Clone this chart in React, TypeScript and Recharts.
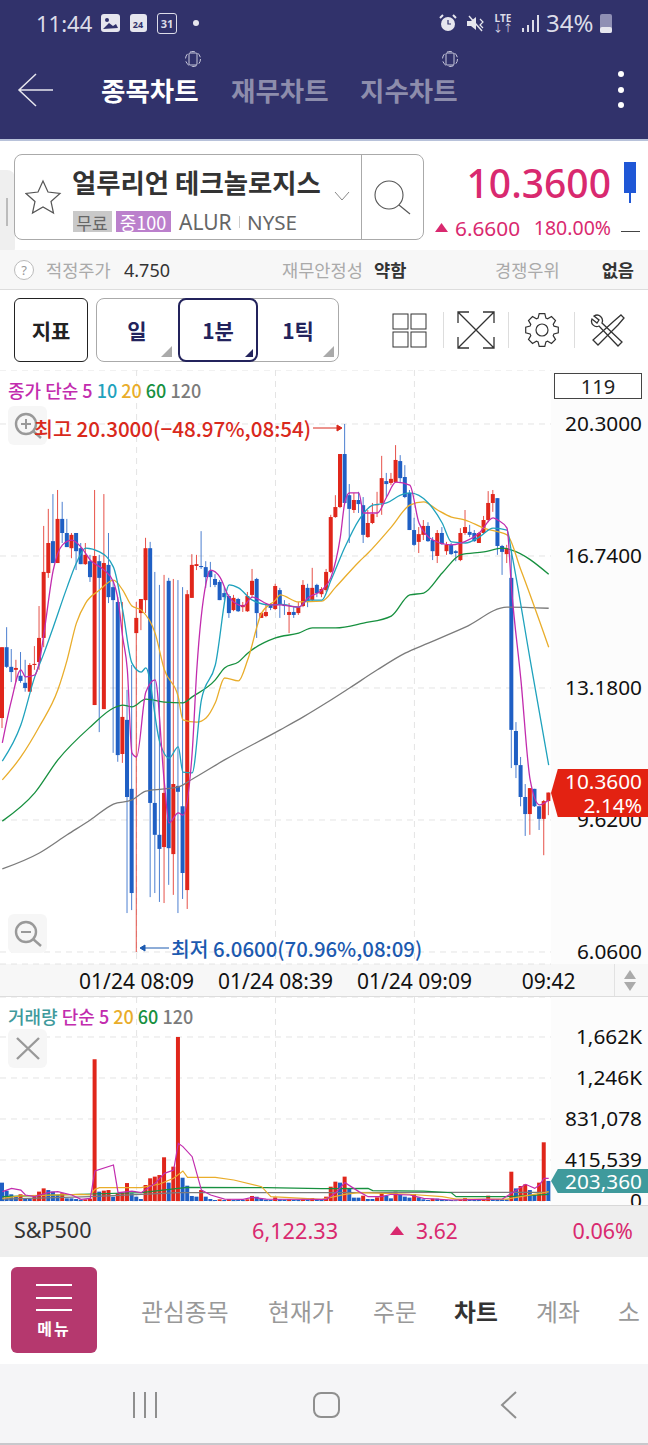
import React from "react"
import { ComposedChart, Bar, Line, Cell, XAxis, YAxis, CartesianGrid } from "recharts"

const FONT = '"Noto Sans", "Noto Sans CJK KR", sans-serif'
const KR = '"Noto Sans CJK KR", "Noto Sans", sans-serif'

const UP = "#e0261b"
const DOWN = "#1f5fc4"
const MAGENTA = "#c22cae"
const TEAL = "#1fa2bd"
const ORANGE = "#e9ad2b"
const GREEN = "#17903f"
const GRAY = "#7b7b7b"

const priceTicks = [6.06, 9.62, 13.18, 16.74, 20.3]
const volumeTicks = [0, 415539, 831078, 1246617, 1662156]
const timeTicks = [29, 59, 89, 118]
const timeLabels = ["01/24 08:09", "01/24 08:39", "01/24 09:09", "09:42"]

const candleOpen = [
  12.37, 14.28, 13.75, 13.67, 13.51, 13.32, 13.08, 13.80, 13.88, 14.53,
  16.28, 17.14, 16.55, 17.74, 17.36, 16.95, 17.36, 16.95, 16.52, 16.60,
  12.72, 16.60, 12.61, 16.50, 15.90, 15.50, 11.40, 12.32, 10.46, 14.66,
  15.20, 15.55, 16.95, 10.08, 9.22, 8.89, 16.07, 8.70, 10.54, 9.99,
  7.73, 15.61, 16.47, 16.47, 16.44, 16.34, 16.12, 16.04, 15.74, 15.66,
  15.28, 15.58, 15.36, 15.25, 15.69, 16.12, 15.07, 15.12, 15.42, 15.31,
  15.82, 15.42, 15.15, 15.23, 15.20, 15.39, 15.88, 15.55, 15.96, 15.71,
  15.82, 16.31, 17.79, 18.06, 19.49, 18.38, 17.98, 18.25, 18.11, 17.25,
  17.63, 18.11, 18.17, 18.76, 18.71, 18.73, 19.30, 18.87, 18.44, 17.44,
  17.12, 17.31, 17.55, 17.17, 16.74, 17.36, 16.87, 17.04, 16.87, 16.63,
  17.36, 17.39, 17.36, 17.09, 17.36, 17.71, 18.17, 18.30, 17.01, 16.79,
  16.15, 12.02, 11.10, 10.24, 9.78, 10.46, 9.99, 9.65, 10.13,
]
const candleHigh = [
  14.28, 14.82, 14.23, 13.94, 14.15, 13.94, 13.85, 14.31, 15.39, 17.55,
  18.01, 18.41, 18.52, 18.20, 17.74, 17.36, 17.36, 17.09, 17.09, 16.77,
  18.52, 16.77, 18.41, 17.36, 16.09, 15.63, 15.50, 13.13, 13.80, 15.50,
  15.58, 17.23, 17.12, 16.31, 15.96, 16.23, 16.15, 16.12, 16.09, 15.90,
  15.82, 16.79, 16.77, 17.41, 16.60, 16.58, 16.25, 16.09, 15.90, 15.71,
  15.69, 15.61, 15.50, 15.77, 16.39, 16.15, 15.23, 15.47, 15.47, 15.99,
  15.88, 15.55, 15.47, 15.36, 15.50, 16.09, 15.99, 16.42, 15.99, 15.90,
  16.39, 17.85, 18.38, 19.49, 20.30, 18.68, 18.44, 18.47, 18.33, 17.98,
  18.17, 18.47, 19.44, 18.98, 18.98, 19.73, 19.46, 19.19, 18.52, 17.77,
  17.52, 17.71, 17.65, 17.25, 17.44, 17.52, 17.12, 17.09, 16.90, 17.49,
  17.98, 17.58, 17.44, 17.39, 17.82, 18.49, 18.52, 18.30, 17.04, 17.04,
  16.90, 12.26, 11.32, 10.59, 10.48, 10.46, 9.99, 10.16, 10.36,
]
const candleLow = [
  12.10, 13.72, 13.34, 13.34, 13.32, 13.08, 13.08, 13.67, 13.67, 14.28,
  16.15, 16.55, 16.55, 17.09, 16.98, 16.68, 16.36, 16.52, 16.50, 16.04,
  12.72, 11.99, 12.61, 15.47, 11.43, 11.19, 11.16, 7.11, 7.19, 6.06,
  14.74, 15.20, 7.54, 7.65, 7.41, 7.38, 7.87, 7.60, 7.11, 7.49,
  7.22, 15.61, 16.36, 16.39, 15.88, 15.90, 15.90, 15.55, 15.55, 15.07,
  15.25, 15.23, 15.23, 15.23, 15.63, 14.53, 15.07, 15.09, 15.28, 15.28,
  15.07, 15.15, 14.66, 15.07, 15.15, 15.36, 15.36, 15.52, 15.63, 15.63,
  15.77, 16.28, 17.77, 18.03, 18.14, 17.09, 17.90, 17.90, 17.09, 17.23,
  17.60, 17.79, 17.85, 18.33, 18.65, 18.71, 18.73, 18.30, 17.44, 17.01,
  16.82, 17.17, 17.12, 16.63, 16.55, 17.04, 16.77, 16.77, 16.60, 16.60,
  17.31, 17.25, 17.12, 17.09, 17.33, 17.65, 17.93, 16.77, 16.23, 16.55,
  11.02, 10.75, 9.99, 9.19, 9.22, 9.97, 9.35, 8.67, 9.75,
]
const candleClose = [
  14.28, 13.75, 13.61, 13.72, 13.37, 13.18, 13.80, 13.83, 14.53, 16.31,
  17.09, 16.55, 17.74, 17.36, 16.98, 17.31, 16.87, 16.52, 16.77, 16.17,
  16.74, 16.15, 16.55, 15.63, 15.55, 11.37, 12.40, 10.24, 7.65, 15.07,
  15.58, 16.95, 10.08, 9.22, 8.84, 10.35, 8.86, 10.59, 10.38, 8.19,
  15.71, 16.50, 16.52, 16.44, 16.17, 16.17, 15.96, 15.55, 15.63, 15.20,
  15.61, 15.25, 15.42, 15.66, 16.07, 15.20, 15.20, 15.23, 15.34, 15.93,
  15.44, 15.39, 15.23, 15.15, 15.36, 15.96, 15.50, 15.88, 15.74, 15.85,
  16.31, 17.79, 18.06, 19.49, 18.17, 18.01, 18.25, 18.14, 17.31, 17.63,
  17.87, 18.14, 18.84, 18.68, 18.82, 19.33, 18.84, 18.33, 17.44, 17.04,
  17.33, 17.55, 17.14, 16.87, 17.36, 17.06, 17.04, 16.79, 16.82, 17.36,
  17.52, 17.31, 17.14, 17.36, 17.71, 18.17, 18.41, 17.01, 16.85, 16.95,
  12.05, 11.10, 10.24, 9.78, 10.48, 9.99, 9.65, 10.13, 10.36,
]

const ma5At = [0, 2, 4, 5, 7, 8, 9, 11, 13, 15, 17, 19, 22, 24, 25, 26, 27, 28, 29, 31, 33, 35, 36, 38, 39, 41, 42, 44, 45, 47, 49, 52, 54, 58, 60, 64, 66, 69, 71, 73, 74, 75, 77, 78, 81, 83, 85, 88, 90, 93, 97, 99, 103, 106, 107, 109, 110, 112, 114, 116, 118]
const ma5 = [11.70, 12.86, 13.67, 13.48, 13.53, 13.88, 14.66, 16.36, 17.04, 17.17, 16.98, 16.63, 16.36, 16.04, 15.55, 14.55, 13.67, 11.43, 11.32, 13.07, 13.40, 10.62, 9.54, 9.81, 9.75, 11.43, 13.67, 16.01, 16.36, 16.17, 15.63, 15.39, 15.63, 15.42, 15.42, 15.36, 15.61, 15.82, 16.17, 17.25, 18.20, 18.44, 18.44, 17.90, 17.90, 18.33, 18.73, 18.65, 17.63, 17.17, 17.04, 17.09, 17.36, 17.77, 17.71, 17.49, 15.82, 13.40, 10.70, 10.03, 10.16]

const ma10At = [0, 4, 7, 9, 11, 14, 16, 18, 21, 24, 26, 28, 30, 31, 34, 36, 38, 39, 41, 43, 46, 49, 51, 54, 58, 60, 64, 66, 69, 71, 74, 77, 80, 83, 86, 88, 92, 95, 97, 100, 103, 106, 109, 110, 114, 118]
const ma10 = [11.21, 12.18, 13.48, 14.12, 14.82, 15.90, 16.55, 16.95, 16.85, 16.44, 15.28, 13.85, 13.61, 13.72, 11.72, 11.29, 11.59, 10.91, 10.89, 12.86, 13.80, 15.96, 15.88, 15.55, 15.42, 15.44, 15.36, 15.55, 15.55, 16.09, 16.98, 17.71, 18.11, 18.17, 18.38, 18.44, 18.17, 17.63, 17.12, 17.09, 17.25, 17.49, 17.44, 16.82, 13.94, 11.10]

const ma20At = [0, 4, 8, 12, 14, 16, 18, 21, 24, 26, 28, 30, 33, 35, 38, 39, 42, 44, 46, 48, 51, 53, 56, 59, 60, 64, 69, 72, 77, 79, 84, 88, 91, 94, 97, 100, 104, 109, 112, 118]
const ma20 = [10.70, 11.32, 12.14, 13.13, 13.94, 14.93, 15.47, 15.82, 16.09, 15.82, 15.39, 15.28, 14.66, 13.67, 12.94, 12.32, 12.26, 12.37, 12.78, 13.45, 13.37, 13.94, 15.20, 15.55, 15.69, 15.50, 15.52, 15.90, 16.58, 16.82, 17.52, 18.11, 18.20, 17.98, 17.79, 17.71, 17.49, 17.31, 16.36, 14.28]

const ma60At = [0, 7, 12, 19, 24, 26, 28, 31, 35, 39, 41, 46, 48, 51, 53, 59, 64, 67, 72, 78, 84, 88, 91, 95, 99, 104, 108, 110, 118]
const ma60 = [9.59, 10.35, 11.24, 12.13, 12.64, 12.72, 12.67, 12.88, 12.80, 12.78, 12.94, 13.40, 13.72, 13.88, 14.12, 14.53, 14.66, 14.80, 14.80, 14.93, 15.12, 15.69, 15.74, 16.28, 16.77, 16.85, 16.95, 16.90, 16.25]

const ma120At = [0, 8, 14, 19, 24, 28, 31, 38, 41, 48, 60, 65, 70, 75, 81, 87, 92, 100, 109, 118]
const ma120 = [8.30, 8.73, 9.22, 9.62, 10.05, 10.16, 10.40, 10.51, 10.72, 11.24, 12.05, 12.40, 12.78, 13.18, 13.67, 14.12, 14.39, 14.82, 15.36, 15.33]

// thousands of shares
const volumeK = [
  186, 105, 68, 44, 68, 27, 20, 44, 95, 128,
  111, 95, 61, 78, 27, 27, 20, 14, 17, 24,
  1436, 95, 105, 111, 44, 78, 84, 182, 78, 44,
  20, 162, 230, 247, 263, 443, 186, 348, 1662, 236,
  155, 51, 44, 111, 44, 20, 10, 17, 10, 17,
  10, 10, 10, 17, 51, 44, 24, 14, 10, 37,
  17, 14, 17, 10, 10, 14, 10, 30, 20, 10,
  44, 145, 196, 186, 247, 128, 34, 34, 54, 20,
  20, 37, 78, 54, 27, 95, 61, 44, 34, 71,
  37, 17, 10, 24, 24, 20, 10, 10, 7, 10,
  30, 17, 14, 14, 20, 54, 20, 20, 17, 17,
  297, 128, 152, 169, 111, 61, 186, 595, 203.36,
]

const vma5At = [0, 2, 4, 5, 7, 10, 12, 15, 17, 19, 20, 24, 25, 28, 30, 33, 35, 37, 38, 39, 41, 43, 45, 48, 52, 54, 57, 70, 72, 74, 77, 79, 82, 84, 88, 91, 97, 104, 108, 110, 113, 115, 116, 117, 118]
const vma5 = [95, 128, 111, 61, 44, 88, 95, 61, 17, 27, 304, 365, 84, 101, 84, 179, 280, 314, 584, 551, 449, 111, 61, 20, 17, 37, 20, 17, 84, 186, 95, 44, 44, 68, 61, 27, 10, 17, 20, 78, 169, 128, 162, 230, 230]

const vma20At = [0, 4, 17, 19, 20, 21, 30, 34, 37, 39, 40, 46, 50, 56, 58, 69, 74, 77, 87, 95, 98, 109, 117, 118]
const vma20 = [27, 51, 68, 61, 118, 135, 135, 172, 230, 304, 240, 240, 213, 145, 44, 17, 68, 84, 71, 44, 20, 20, 84, 95]

const vma60At = [0, 19, 30, 38, 40, 57, 69, 79, 80, 91, 97, 98, 109, 118]
const vma60 = [44, 71, 84, 128, 139, 135, 125, 128, 105, 101, 84, 44, 44, 68]

const vma120At = [0, 19, 30, 38, 69, 97, 117, 118]
const vma120 = [20, 44, 68, 84, 84, 88, 88, 91]

const pick = (at: number[], values: number[], i: number, scale = 1) => {
  const k = at.indexOf(i)
  return k < 0 ? null : values[k] * scale
}

const priceData = candleOpen.map((open, i) => ({
  idx: i,
  open,
  high: candleHigh[i],
  low: candleLow[i],
  close: candleClose[i],
  ma5: pick(ma5At, ma5, i),
  ma10: pick(ma10At, ma10, i),
  ma20: pick(ma20At, ma20, i),
  ma60: pick(ma60At, ma60, i),
  ma120: pick(ma120At, ma120, i),
}))

const volumeData = volumeK.map((v, i) => ({
  idx: i,
  volume: v * 1000,
  vma5: pick(vma5At, vma5, i, 1000),
  vma20: pick(vma20At, vma20, i, 1000),
  vma60: pick(vma60At, vma60, i, 1000),
  vma120: pick(vma120At, vma120, i, 1000),
}))

function Candle(props: any) {
  const { x, y, width, height, payload } = props
  const unit = height / (payload.high - payload.low)
  const yOf = (p: number) => y + (payload.high - p) * unit
  const color = payload.close >= payload.open ? UP : DOWN
  const top = yOf(Math.max(payload.open, payload.close))
  const bottom = yOf(Math.min(payload.open, payload.close))
  const mid = x + width / 2
  return (
    <g>
      <line x1={mid} x2={mid} y1={y} y2={y + height} stroke={color} strokeWidth={1} strokeOpacity={0.8} />
      <rect x={x} y={top} width={width} height={Math.max(bottom - top, 1)} fill={color} />
    </g>
  )
}

function formatVolume(v: number) {
  if (v >= 1000000) return `${Math.floor(v / 1000).toLocaleString("en-US")}K`
  return v.toLocaleString("en-US")
}

const RightTick = (format: (v: number) => string) => (p: any) => (
  <text x={642} y={p.y} dy="0.36em" textAnchor="end" fontSize={20.8} fill="#111" fontFamily={FONT}>
    {format(p.payload.value)}
  </text>
)

// vertical grid only at the labelled times, one slot per candle across the plot
const gridAtTimes = ({ offset }: any) =>
  timeTicks.slice(0, 3).map((t) => offset.left + ((t + 0.5) / candleOpen.length) * offset.width)

function T({ x, y, size, color, weight, end, center, children, font, spacing }: any) {
  const tx = end ? "-100%" : center ? "-50%" : "0"
  return (
    <div style={{
      position: "absolute", left: x, top: y, transform: `translate(${tx}, -50%)`, fontSize: size,
      color, fontWeight: weight ?? 400, whiteSpace: "nowrap", lineHeight: 1, fontFamily: font ?? FONT,
      letterSpacing: spacing,
    }}>{children}</div>
  )
}

function Box({ x, y, w, h, bg, border, radius, clip }: any) {
  return <div style={{
    position: "absolute", left: x, top: y, width: w, height: h, background: bg, border, borderRadius: radius,
    boxSizing: "border-box", clipPath: clip,
  }} />
}

function Icon({ x, y, w, h, children }: any) {
  return (
    <svg style={{ position: "absolute", left: x, top: y }} width={w} height={h} viewBox={`0 0 ${w} ${h}`} fill="none">
      {children}
    </svg>
  )
}

function ZoomButton({ y, plus }: { y: number; plus: boolean }) {
  return (
    <>
      <Box x={8} y={y} w={39} h={39} bg="#f6f6f6" radius={6} />
      <Icon x={8} y={y} w={39} h={39}>
        <circle cx={18} cy={18} r={10} stroke="#999" strokeWidth={2.4} />
        <line x1={25} y1={25} x2={33} y2={32} stroke="#999" strokeWidth={2.4} />
        <line x1={13} y1={18} x2={23} y2={18} stroke="#999" strokeWidth={2} />
        {plus && <line x1={18} y1={13} x2={18} y2={23} stroke="#999" strokeWidth={2} />}
      </Icon>
    </>
  )
}

function gearPath(cx: number, cy: number) {
  const pts: string[] = []
  for (let k = 0; k < 8; k++) {
    const a = (k * Math.PI) / 4
    const at = (r: number, d: number) => `${(cx + r * Math.cos(a + d)).toFixed(1)} ${(cy + r * Math.sin(a + d)).toFixed(1)}`
    pts.push(at(12.5, -0.32), at(16.5, -0.17), at(16.5, 0.17), at(12.5, 0.32))
  }
  return "M" + pts.join(" L") + " Z"
}

function Chrome() {
  return (
    <>
      {/* top bar */}
      <Box x={0} y={0} w={648} h={139} bg="#31326b" />
      <Box x={0} y={139} w={648} h={2} bg="#b8c2da" />
      <T x={36} y={23} size={22} color="#dcdce8">11:44</T>
      <Box x={101} y={14} w={19} h={18} bg="#e6e6ee" radius={3} />
      <Icon x={101} y={14} w={19} h={18}>
        <circle cx={6} cy={6} r={2} fill="#31326b" />
        <path d="M2 15 L8 9 L12 12 L15 10 L17 14 Z" fill="#31326b" />
      </Icon>
      <Box x={130} y={14} w={17} h={18} bg="#e6e6ee" radius={3} />
      <T x={138} y={24} size={9} color="#31326b" weight={700} center>24</T>
      <Box x={157} y={13} w={20} h={21} border="1.5px solid #dcdce8" radius={3} />
      <T x={167} y={23} size={11} color="#dcdce8" weight={700} center>31</T>
      <Box x={193} y={20} w={6} h={6} bg="#e6e6ee" radius="50%" />
      <Icon x={438} y={13} w={20} h={20}>
        <circle cx={10} cy={11} r={7} fill="#e6e6ee" />
        <path d="M10 7 V11 H13" stroke="#31326b" strokeWidth={1.2} />
        <path d="M2 5 L5 2 M18 5 L15 2" stroke="#e6e6ee" strokeWidth={2} />
      </Icon>
      <Icon x={466} y={13} w={20} h={20}>
        <path d="M1 8 H5 L10 4 V17 L5 13 H1 Z" fill="#e6e6ee" />
        <path d="M3 3 L16 18" stroke="#e6e6ee" strokeWidth={1.4} />
        <path d="M14 6 L17 9 L14 12 L17 15" stroke="#e6e6ee" strokeWidth={1.2} />
      </Icon>
      <T x={503} y={18} size={10} color="#dcdce8" center weight={700}>LTE</T>
      <T x={503} y={28} size={10} color="#dcdce8" center>↓↑</T>
      <Box x={522} y={28} w={2} h={4} bg="#dcdce8" />
      <Box x={527} y={25} w={2} h={7} bg="#dcdce8" />
      <Box x={532} y={20} w={2} h={12} bg="#dcdce8" />
      <Box x={537} y={15} w={2} h={17} bg="#dcdce8" />
      <T x={546} y={23} size={24} color="#dcdce8">34%</T>
      <Box x={600} y={14} w={12} h={19} bg="#8f8fb4" radius={2} />
      <Box x={600} y={27} w={12} h={6} bg="#e6e6ee" radius={2} />
      <Icon x={12} y={70} w={48} h={40}>
        <path d="M24 4 L7 20 L24 36 M7 20 L41 20" stroke="#e6e6ee" strokeWidth={1.5} />
      </Icon>
      <T x={101} y={90} size={26.5} color="#fff" weight={700} font={KR}>종목차트</T>
      <T x={231} y={90} size={26.5} color="#8d8dac" weight={700} font={KR}>재무차트</T>
      <T x={360} y={90} size={26.5} color="#8d8dac" weight={700} font={KR}>지수차트</T>
      <Icon x={185} y={50} w={16} h={18}><rect x={4} y={3} width={8} height={12} rx={1} stroke="#c8c8dc" /><circle cx={8} cy={9} r={7.5} stroke="#c8c8dc" strokeDasharray="5 3" /></Icon>
      <Icon x={442} y={50} w={16} h={18}><rect x={4} y={3} width={8} height={12} rx={1} stroke="#c8c8dc" /><circle cx={8} cy={9} r={7.5} stroke="#c8c8dc" strokeDasharray="5 3" /></Icon>
      <Box x={618} y={71} w={6} h={6} bg="#fff" radius="50%" />
      <Box x={618} y={87} w={6} h={6} bg="#fff" radius="50%" />
      <Box x={618} y={102} w={6} h={6} bg="#fff" radius="50%" />

      {/* stock box */}
      <Box x={0} y={170} w={15} h={86} bg="#efefef" radius="0 8px 8px 0" />
      <Box x={6} y={198} w={2} h={28} bg="#bbb" />
      <Box x={14} y={154} w={410} h={86} bg="#fff" border="1px solid #aaa" radius={8} />
      <Box x={361} y={155} w={1} h={84} bg="#aaa" />
      <Icon x={25} y={178} w={38} h={38}>
        <path d="M18 3 L23 14 L35 15.5 L26 23.5 L28.5 35 L18 29 L7.5 35 L10 23.5 L1 15.5 L13 14 Z" stroke="#555" strokeWidth={1.2} />
      </Icon>
      <T x={72} y={182} size={26.4} color="#333" weight={700} font={KR}>얼루리언 테크놀로지스</T>
      <Icon x={333} y={190} w={18} h={12}><path d="M2 2 L9 10 L16 2" stroke="#888" strokeWidth={1} /></Icon>
      <Icon x={372} y={178} w={42} h={42}>
        <circle cx={17} cy={17} r={14} stroke="#555" strokeWidth={1.1} />
        <line x1={27} y1={27} x2={38} y2={36} stroke="#555" strokeWidth={1.1} />
      </Icon>
      <Box x={73} y={211} w={39} h={21} bg="#c9c9c9" />
      <T x={92} y={222} size={17} color="#666" center font={KR}>무료</T>
      <Box x={116} y={211} w={55} h={21} bg="#bb80cc" />
      <T x={143} y={222} size={18} color="#fff" center font={KR}>중100</T>
      <T x={179} y={222} size={21} color="#666">ALUR</T>
      <Box x={239} y={216} w={1} h={12} bg="#ccc" />
      <T x={247} y={222} size={20.6} color="#666">NYSE</T>
      <T x={611} y={182} size={39} color="#d9296f" weight={500} end>10.3600</T>
      <Box x={624} y={162} w={12} h={31} bg="#1f57d6" />
      <Box x={629} y={193} w={2} h={10} bg="#1f57d6" />
      <Box x={435} y={223} w={13} h={9} bg="#d9296f" clip="polygon(50% 0, 100% 100%, 0 100%)" />
      <T x={455} y={228} size={20.8} color="#d9296f">6.6600</T>
      <T x={611} y={228} size={19.5} color="#d9296f" end>180.00%</T>
      <Box x={621} y={231} w={19} h={1} bg="#444" />

      {/* info row */}
      <Box x={0} y={250} w={648} h={39} bg="#f7f7f7" />
      <Box x={0} y={289} w={648} h={1} bg="#ddd" />
      <Box x={14} y={260} w={20} h={20} bg="#fff" border="1px solid #bbb" radius="50%" />
      <T x={24} y={270} size={13} color="#999" center>?</T>
      <T x={46} y={270} size={17.6} color="#aaa" font={KR}>적정주가</T>
      <T x={124} y={270} size={18} color="#333">4.750</T>
      <T x={282} y={270} size={17.6} color="#aaa" font={KR}>재무안정성</T>
      <T x={374} y={270} size={17.6} color="#333" weight={700} font={KR}>약함</T>
      <T x={495} y={270} size={17.6} color="#aaa" font={KR}>경쟁우위</T>
      <T x={634} y={270} size={17.6} color="#333" weight={700} end font={KR}>없음</T>

      {/* period buttons */}
      <Box x={14} y={298} w={74} h={64} bg="#fff" border="1.5px solid #222" radius={6} />
      <T x={51} y={330} size={21} color="#222" weight={700} center font={KR}>지표</T>
      <Box x={96} y={298} w={243} h={64} bg="#fff" border="1px solid #aaa" radius={8} />
      <Box x={178} y={298} w={80} h={64} bg="#fff" border="2px solid #23235c" radius={8} />
      <T x={137} y={330} size={21} color="#23235c" weight={700} center font={KR}>일</T>
      <T x={218} y={330} size={21} color="#23235c" weight={700} center font={KR}>1분</T>
      <T x={298} y={330} size={21} color="#23235c" weight={700} center font={KR}>1틱</T>
      <Box x={161} y={346} w={11} h={11} bg="#aaa" clip="polygon(100% 0, 100% 100%, 0 100%)" />
      <Box x={245} y={349} w={8} h={8} bg="#23235c" clip="polygon(100% 0, 100% 100%, 0 100%)" />
      <Box x={323} y={346} w={11} h={11} bg="#aaa" clip="polygon(100% 0, 100% 100%, 0 100%)" />
      <Icon x={392} y={313} w={36} h={36}>
        <rect x={1} y={1} width={15} height={15} stroke="#333" /><rect x={19} y={1} width={15} height={15} stroke="#333" />
        <rect x={1} y={19} width={15} height={15} stroke="#333" /><rect x={19} y={19} width={15} height={15} stroke="#333" />
      </Icon>
      <Box x={443} y={312} w={1} h={36} bg="#ddd" />
      <Icon x={457} y={311} w={38} h={38}>
        <path d="M1 12 V1 H12 M26 1 H37 V12 M1 26 V37 H12 M37 26 V37 H26 M1 1 L37 37 M37 1 L1 37" stroke="#333" strokeWidth={1.3} />
      </Icon>
      <Box x={508} y={312} w={1} h={36} bg="#ddd" />
      <Icon x={524} y={313} w={36} h={36}>
        <circle cx={18} cy={17} r={6} stroke="#333" strokeWidth={1.2} />
        <path d={gearPath(18, 17)} stroke="#333" strokeWidth={1.2} />
      </Icon>
      <Box x={574} y={312} w={1} h={36} bg="#ddd" />
      <Icon x={590} y={312} w={36} h={36}>
        <path d="M4 4 C9 1 14 6 12 11 L32 30 L28 34 L9 14 C5 16 0 12 2 7 L7 11 L9 8 Z" stroke="#333" strokeWidth={1.3} />
        <path d="M31 3 L34 6 L28 13 L14 27 L8 33 L3 28 L24 9 Z" stroke="#333" strokeWidth={1.3} />
      </Icon>

      {/* time strip */}
      <Box x={0} y={964} w={648} h={32} bg="#f7f7f7" />
      <Box x={0} y={996} w={648} h={1} bg="#ddd" />
      <Box x={614} y={964} w={1} h={32} bg="#e2e2e2" />

      {/* right price gutter */}
      <Box x={551} y={370} w={97} h={594} bg="#fcfcfc" />
      <Box x={551} y={997} w={97} h={208} bg="#fcfcfc" />

      {/* footer */}
      <Box x={0} y={1205} w={648} h={52} bg="#eeeeee" />
      <Box x={0} y={1205} w={648} h={1} bg="#d8d8d8" />
      <T x={14} y={1230} size={21.5} color="#333">S&amp;P500</T>
      <T x={252} y={1231} size={21.7} color="#d9296f">6,122.33</T>
      <Box x={390} y={1226} w={14} h={9} bg="#d9296f" clip="polygon(50% 0, 100% 100%, 0 100%)" />
      <T x={416} y={1231} size={21} color="#d9296f">3.62</T>
      <T x={633} y={1231} size={21.5} color="#d9296f" end>0.06%</T>
      <Box x={0} y={1257} w={648} h={107} bg="#fff" />
      <Box x={11} y={1267} w={86} h={86} bg="#b5386e" radius={6} />
      <Box x={36} y={1284} w={36} h={2} bg="#fff" />
      <Box x={36} y={1297} w={36} h={2} bg="#fff" />
      <Box x={36} y={1309} w={36} h={2} bg="#fff" />
      <T x={54} y={1328} size={16} color="#fff" weight={700} center font={KR} spacing={2}>메뉴</T>
      <T x={141} y={1311} size={23.8} color="#999" font={KR}>관심종목</T>
      <T x={268} y={1311} size={23.8} color="#999" font={KR}>현재가</T>
      <T x={373} y={1311} size={23.8} color="#999" font={KR}>주문</T>
      <T x={454} y={1311} size={23.8} color="#333" weight={700} font={KR}>차트</T>
      <T x={536} y={1311} size={23.8} color="#999" font={KR}>계좌</T>
      <T x={618} y={1311} size={23.8} color="#999" font={KR}>소</T>
      <Box x={0} y={1364} w={648} h={81} bg="#f5f5f7" />
      <Box x={0} y={1443} w={648} h={2} bg="#c8c8cc" />
      <Box x={133} y={1392} w={2} h={26} bg="#8f8f8f" />
      <Box x={144} y={1392} w={2} h={26} bg="#8f8f8f" />
      <Box x={155} y={1392} w={2} h={26} bg="#8f8f8f" />
      <Box x={313} y={1392} w={27} h={26} border="2.5px solid #8f8f8f" radius={8} />
      <Icon x={498} y={1390} w={22} h={30}><path d="M18 2 L4 15 L18 28" stroke="#8f8f8f" strokeWidth={2} /></Icon>
    </>
  )
}

function Overlays() {
  return (
    <>
      <div style={{ position: "absolute", left: 8, top: 390, transform: "translateY(-50%)", fontSize: 18, fontWeight: 500, whiteSpace: "nowrap", fontFamily: KR }}>
        <span style={{ color: MAGENTA }}>종가 단순 5 </span>
        <span style={{ color: TEAL }}>10 </span>
        <span style={{ color: ORANGE }}>20 </span>
        <span style={{ color: GREEN }}>60 </span>
        <span style={{ color: GRAY }}>120</span>
      </div>
      <Box x={554} y={373} w={88} h={26} bg="#fff" border="1px solid #444" />
      <T x={598} y={387} size={20} color="#222" center>119</T>

      <ZoomButton y={406} plus />
      <ZoomButton y={914} plus={false} />
      <T x={34} y={428} size={20.6} color="#d9291c" weight={500} font={KR}>최고 20.3000(−48.97%,08:54)</T>
      <Icon x={312} y={422} w={32} h={12}><path d="M1 6 H29 M25 3 L30 6 L25 9 Z" stroke="#d9291c" fill="#d9291c" /></Icon>
      <T x={171} y={948} size={20.4} color="#1c5ab0" weight={500} font={KR}>최저 6.0600(70.96%,08:09)</T>
      <Icon x={138} y={942} w={32} h={12}><path d="M31 6 H3 M7 3 L2 6 L7 9 Z" stroke="#1c5ab0" fill="#1c5ab0" /></Icon>

      <Box x={551} y={769} w={97} h={48} bg="#e32212" clip="polygon(7% 0, 100% 0, 100% 100%, 7% 100%, 0 50%)" />
      <T x={642} y={781} size={20.8} color="#fff" end>10.3600</T>
      <T x={642} y={805} size={20.8} color="#fff" end>2.14%</T>

      <Box x={624} y={970} w={12} h={9} bg="#aaa" clip="polygon(50% 0, 100% 100%, 0 100%)" />
      <Box x={624} y={982} w={12} h={9} bg="#aaa" clip="polygon(50% 100%, 100% 0, 0 0)" />

      <div style={{ position: "absolute", left: 8, top: 1016, transform: "translateY(-50%)", fontSize: 18, fontWeight: 500, whiteSpace: "nowrap", fontFamily: KR }}>
        <span style={{ color: "#3f9a9c" }}>거래량 </span>
        <span style={{ color: MAGENTA }}>단순 5 </span>
        <span style={{ color: ORANGE }}>20 </span>
        <span style={{ color: GREEN }}>60 </span>
        <span style={{ color: GRAY }}>120</span>
      </div>
      <Box x={8} y={1029} w={39} h={39} bg="#f6f6f6" radius={6} />
      <Icon x={8} y={1029} w={39} h={39}>
        <path d="M9 9 L31 30 M31 9 L9 30" stroke="#999" strokeWidth={2.4} />
      </Icon>
      <Box x={551} y={1169} w={97} h={24} bg="#3f9a9c" clip="polygon(7% 0, 100% 0, 100% 100%, 7% 100%, 0 50%)" />
      <T x={642} y={1181} size={20.8} color="#fff" end>203,360</T>
    </>
  )
}

export default function App() {
  return (
    <div style={{ position: "absolute", left: 0, top: 0, width: 648, height: 1445, overflow: "hidden", background: "#fff", fontFamily: FONT }}>
      <Chrome />

      <div style={{ position: "absolute", left: 0, top: 370 }}>
        <ComposedChart width={648} height={626} data={priceData} margin={{ top: 0, right: 0, bottom: 0, left: 0 }} barCategoryGap={0} style={{ fontFamily: FONT }}>
          <CartesianGrid stroke="#e4e4e4" strokeDasharray="6 5" verticalCoordinatesGenerator={gridAtTimes} />
          <XAxis
            dataKey="idx"
            ticks={timeTicks}
            interval={0}
            height={32}
            tickLine={false}
            axisLine={false}
            tickMargin={4}
            tick={{ fontSize: 21, fill: "#111" }}
            tickFormatter={(v: number) => timeLabels[timeTicks.indexOf(v)]}
          />
          <YAxis
            orientation="right"
            width={97}
            domain={[5.736, 21.756]}
            ticks={priceTicks}
            interval={0}
            tickLine={false}
            axisLine={false}
            tick={RightTick((v) => v.toFixed(4))}
          />
          <Bar dataKey={(d: any) => [d.low, d.high]} barSize={4} shape={<Candle />} isAnimationActive={false} />
          <Line type="monotone" dataKey="ma120" stroke={GRAY} strokeWidth={1.3} dot={false} connectNulls isAnimationActive={false} />
          <Line type="monotone" dataKey="ma60" stroke={GREEN} strokeWidth={1.3} dot={false} connectNulls isAnimationActive={false} />
          <Line type="monotone" dataKey="ma20" stroke={ORANGE} strokeWidth={1.3} dot={false} connectNulls isAnimationActive={false} />
          <Line type="monotone" dataKey="ma10" stroke={TEAL} strokeWidth={1.3} dot={false} connectNulls isAnimationActive={false} />
          <Line type="monotone" dataKey="ma5" stroke={MAGENTA} strokeWidth={1.3} dot={false} connectNulls isAnimationActive={false} />
        </ComposedChart>
      </div>

      <div style={{ position: "absolute", left: 0, top: 997 }}>
        <ComposedChart width={648} height={208} data={volumeData} margin={{ top: 0, right: 0, bottom: 4, left: 0 }} barCategoryGap={0} style={{ fontFamily: FONT }}>
          <CartesianGrid stroke="#e4e4e4" strokeDasharray="6 5" verticalCoordinatesGenerator={gridAtTimes} />
          <XAxis dataKey="idx" hide />
          <YAxis
            orientation="right"
            width={97}
            domain={[0, 2067540]}
            ticks={volumeTicks}
            interval={0}
            tickLine={false}
            axisLine={false}
            tick={RightTick(formatVolume)}
          />
          <Bar dataKey="volume" barSize={4} isAnimationActive={false}>
            {volumeK.map((v, i) => (
              <Cell key={i} fill={i > 0 && v > volumeK[i - 1] ? UP : DOWN} />
            ))}
          </Bar>
          <Line dataKey="vma120" stroke={GRAY} strokeWidth={1.2} dot={false} connectNulls isAnimationActive={false} />
          <Line dataKey="vma60" stroke={GREEN} strokeWidth={1.2} dot={false} connectNulls isAnimationActive={false} />
          <Line dataKey="vma20" stroke={ORANGE} strokeWidth={1.2} dot={false} connectNulls isAnimationActive={false} />
          <Line dataKey="vma5" stroke={MAGENTA} strokeWidth={1.2} dot={false} connectNulls isAnimationActive={false} />
        </ComposedChart>
      </div>

      <Overlays />
    </div>
  )
}
